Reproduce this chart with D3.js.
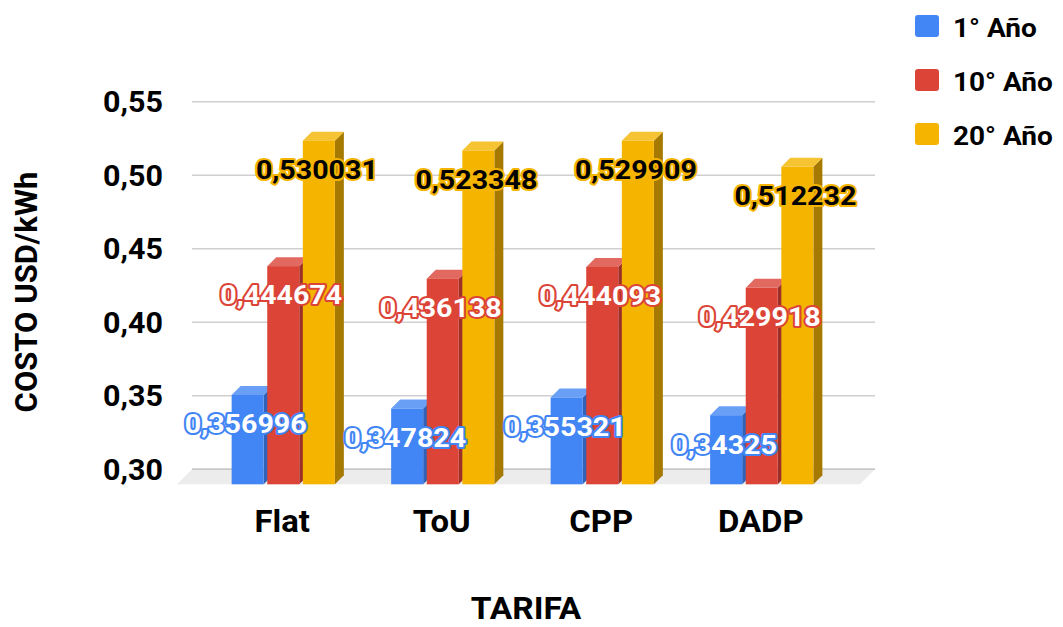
<!DOCTYPE html>
<html>
<head>
<meta charset="utf-8">
<script src="https://cdn.jsdelivr.net/npm/d3@7"></script>
<style>
  body { margin: 0; background: #fff; }
  svg { display: block; font-family: Roboto, "Noto Sans", sans-serif; font-weight: 700; }
</style>
</head>
<body>
<svg id="chart" width="1063" height="627"></svg>
<script>
// data
var categories = ['Flat', 'ToU', 'CPP', 'DADP'];
var seriesNames = ['1° Año', '10° Año', '20° Año'];
var year1 = [0.356996, 0.347824, 0.355321, 0.34325];
var year10 = [0.444674, 0.436138, 0.444093, 0.429918];
var year20 = [0.530031, 0.523348, 0.529909, 0.512232];
var yTicks = [0.30, 0.35, 0.40, 0.45, 0.50, 0.55];

var seriesValues = [year1, year10, year20];
var colors = [
  { front: '#4285f4', side: '#2f62b8', top: '#6a9ff6', text: '#fff' },
  { front: '#db4437', side: '#9c3028', top: '#e2695f', text: '#fff' },
  { front: '#f4b400', side: '#a67a00', top: '#f6c433', text: '#000' }
];

var fmt = function(v) { return String(v).replace('.', ','); };
// the source picture is a bit wider than tall, text looks stretched
var stretch = function(x, y, sx) { return 'translate(' + x + ',' + y + ') scale(' + sx + ',1)'; };

var depth = 9;      // 3d offset of the bars
var floorDepth = 15;

var svg = d3.select('#chart');

var y = d3.scaleLinear()
  .domain([0.30, 0.55])
  .range([469.3, 101.8]);

var x0 = d3.scaleBand()
  .domain(categories)
  .range([203.5, 841.5])
  .padding(0);

var x1 = d3.scaleBand()
  .domain(d3.range(seriesNames.length))
  .range([-51.6, 51.6])
  .paddingInner(0.1);

var gridLeft = 192, gridRight = 875;

// gridlines (back wall)
svg.append('g').selectAll('line')
  .data(yTicks)
  .enter().append('line')
  .attr('x1', gridLeft)
  .attr('x2', gridRight)
  .attr('y1', d => y(d))
  .attr('y2', d => y(d))
  .attr('stroke', '#cfcfcf')
  .attr('stroke-width', 1.5);

// floor
var yFloor = y(yTicks[0]);
svg.append('path')
  .attr('d', d3.line()([
    [gridLeft, yFloor], [gridRight, yFloor],
    [gridRight - floorDepth, yFloor + floorDepth], [gridLeft - floorDepth, yFloor + floorDepth]
  ]) + 'Z')
  .attr('fill', '#ececec');
svg.append('line')
  .attr('x1', gridLeft).attr('x2', gridRight)
  .attr('y1', yFloor).attr('y2', yFloor)
  .attr('stroke', '#c8c8c8').attr('stroke-width', 1.5);

// y tick labels
svg.append('g').selectAll('text')
  .data(yTicks)
  .enter().append('text')
  .attr('transform', d => stretch(163, y(d), 1.05))
  .attr('dy', '0.36em')
  .attr('text-anchor', 'end')
  .attr('font-size', 29)
  .attr('fill', '#000')
  .text(d => d.toFixed(2).replace('.', ','));

// bars
var bars = [];
categories.forEach(function(c, ci) {
  seriesValues.forEach(function(vals, si) {
    var cx = x0(c) + x0.bandwidth() / 2 + x1(si);
    bars.push({
      x: cx,
      w: x1.bandwidth(),
      top: y(vals[ci]) + depth + 0.5,
      bottom: yFloor + floorDepth,
      v: vals[ci],
      s: si
    });
  });
});

var barG = svg.append('g').selectAll('g')
  .data(bars)
  .enter().append('g');

barG.append('path')
  .attr('d', d => d3.line()([[d.x + d.w, d.top], [d.x + d.w + depth, d.top - depth],
    [d.x + d.w + depth, d.bottom - depth], [d.x + d.w, d.bottom]]) + 'Z')
  .attr('fill', d => colors[d.s].side);

barG.append('path')
  .attr('d', d => d3.line()([[d.x, d.top], [d.x + depth, d.top - depth],
    [d.x + d.w + depth, d.top - depth], [d.x + d.w, d.top]]) + 'Z')
  .attr('fill', d => colors[d.s].top);

barG.append('rect')
  .attr('x', d => d.x)
  .attr('y', d => d.top)
  .attr('width', d => d.w)
  .attr('height', d => d.bottom - d.top)
  .attr('fill', d => colors[d.s].front);

// value labels
svg.append('g').selectAll('text')
  .data(bars.slice().sort((a, b) => a.s - b.s))
  .enter().append('text')
  .attr('transform', d => stretch(d.x + d.w / 2 - 2, d.top + 29, 1.1))
  .attr('dy', '0.36em')
  .attr('text-anchor', 'middle')
  .attr('font-size', 26)
  .attr('fill', d => colors[d.s].text)
  .attr('stroke', d => colors[d.s].front)
  .attr('stroke-width', 4)
  .attr('stroke-linejoin', 'round')
  .attr('paint-order', 'stroke')
  .text(d => fmt(d.v));

// category labels
svg.append('g').selectAll('text')
  .data(categories)
  .enter().append('text')
  .attr('transform', d => stretch(x0(d) + x0.bandwidth() / 2 - 1, 532, 1.06))
  .attr('text-anchor', 'middle')
  .attr('font-size', 31)
  .text(d => d);

// axis titles
svg.append('text')
  .attr('transform', stretch(526, 619, 1.08))
  .attr('text-anchor', 'middle')
  .attr('font-size', 31)
  .text('TARIFA');

svg.append('text')
  .attr('transform', 'translate(37,292) rotate(-90)')
  .attr('text-anchor', 'middle')
  .attr('font-size', 31)
  .text('COSTO USD/kWh');

// legend
var legend = svg.append('g').selectAll('g')
  .data(seriesNames)
  .enter().append('g')
  .attr('transform', (d, i) => 'translate(915,' + (15 + i * 54) + ')');

legend.append('rect')
  .attr('width', 24)
  .attr('height', 22)
  .attr('rx', 3)
  .attr('fill', (d, i) => colors[i].front);

legend.append('text')
  .attr('transform', stretch(38, 21.5, 1.12))
  .attr('font-size', 25)
  .text(d => d);
</script>
</body>
</html>
